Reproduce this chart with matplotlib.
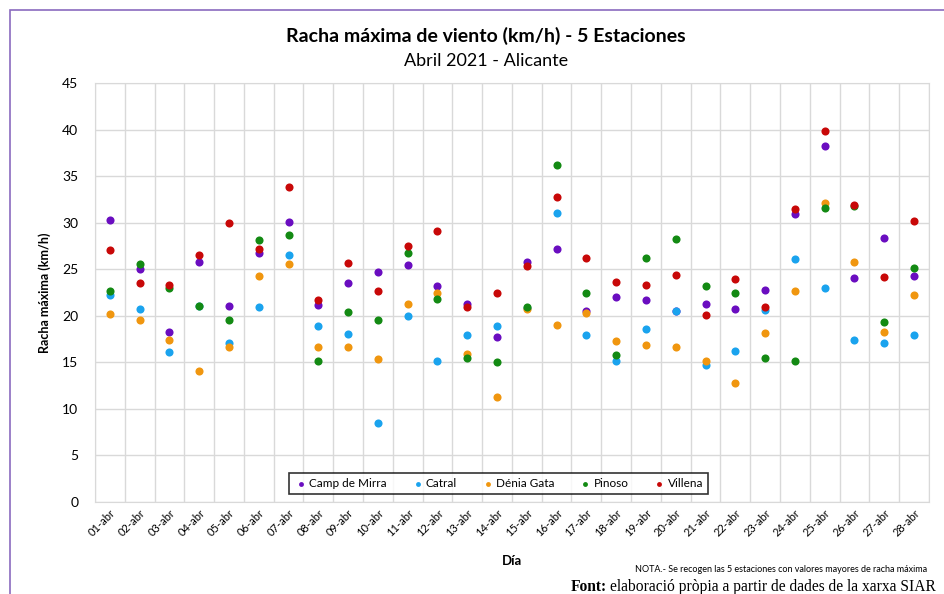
#!/usr/bin/env python3

import matplotlib

matplotlib.use("Agg")

import matplotlib.pyplot as plt
from matplotlib.patches import Rectangle
import numpy as np


DAYS = [f"{d:02d}-abr" for d in range(1, 29)]

CAMP_DE_MIRRA = [30.3, 25.0, 18.3, 25.8, 21.1, 26.8, 30.1, 21.2, 23.5, 24.7,
                 25.5, 23.2, 21.3, 17.7, 25.8, 27.2, 20.5, 22.0, 21.7, 20.5,
                 21.3, 20.7, 22.8, 30.9, 38.3, 24.1, 28.4, 24.3]
CATRAL = [22.2, 20.7, 16.1, 21.1, 17.1, 20.9, 26.5, 18.9, 18.0, 8.5,
          20.0, 15.1, 17.9, 18.9, 20.8, 31.0, 17.9, 15.1, 18.6, 20.5,
          14.7, 16.2, 20.6, 26.1, 23.0, 17.4, 17.1, 17.9]
DENIA_GATA = [20.2, 19.5, 17.4, 14.1, 16.6, 24.3, 25.6, 16.7, 16.6, 15.4,
              21.3, 22.5, 15.9, 11.3, 20.7, 19.0, 20.3, 17.3, 16.9, 16.6,
              15.1, 12.8, 18.2, 22.7, 32.1, 25.8, 18.3, 22.2]
PINOSO = [22.7, 25.6, 23.0, 21.1, 19.5, 28.2, 28.7, 15.1, 20.4, 19.6,
          26.8, 21.8, 15.5, 15.0, 21.0, 36.2, 22.5, 15.8, 26.2, 28.3,
          23.2, 22.4, 15.5, 15.1, 31.6, 31.8, 19.3, 25.1]
VILLENA = [27.1, 23.5, 23.3, 26.5, 30.0, 27.2, 33.8, 21.7, 25.7, 22.7,
           27.5, 29.1, 20.9, 22.5, 25.3, 32.8, 26.2, 23.6, 23.3, 24.4,
           20.1, 24.0, 21.0, 31.5, 39.9, 31.9, 24.2, 30.2]

SERIES = [
    ("Camp de Mirra", CAMP_DE_MIRRA, "#6a0dc0"),
    ("Catral", CATRAL, "#1aa3ee"),
    ("Dénia Gata", DENIA_GATA, "#f0960f"),
    ("Pinoso", PINOSO, "#138a13"),
    ("Villena", VILLENA, "#c80808"),
]

plt.rcParams["font.family"] = ["Lato", "DejaVu Sans"]

fig = plt.figure(figsize=(9.44, 5.94), dpi=100)
ax = fig.add_axes([0.1006, 0.155, 0.8834, 0.705])

x = np.arange(1, len(DAYS) + 1)
for name, values, color in SERIES:
    ax.scatter(x, values, s=34, color=color, label=name, zorder=3, linewidths=0)

ax.set_xlim(0.5, len(DAYS) + 0.5)
ax.set_ylim(0, 45)
ax.set_yticks(np.arange(0, 46, 5))
ax.set_xticks(x)
ax.set_xticklabels(DAYS, rotation=45, ha="right", rotation_mode="anchor", fontsize=8)
ax.set_xticks(np.arange(0.5, len(DAYS) + 1, 1), minor=True)
ax.tick_params(axis="y", labelsize=10, length=0, pad=12)
ax.tick_params(axis="x", which="both", length=0, pad=4)
ax.grid(True, axis="y", color="#d9d9d9", linewidth=1.0)
ax.grid(True, axis="x", which="minor", color="#d9d9d9", linewidth=1.0)
ax.set_axisbelow(True)
for spine in ax.spines.values():
    spine.set_color("#d9d9d9")

ax.set_ylabel("Racha máxima (km/h)", fontsize=9, fontweight="bold", labelpad=8)
ax.set_xlabel("Día", fontsize=9.5, fontweight="bold", labelpad=12)

leg = ax.legend(loc="lower center", bbox_to_anchor=(0.484, 0.005), ncol=5,
                fontsize=8.5, frameon=True, fancybox=False, handletextpad=0.1,
                columnspacing=2.0, markerscale=0.6, borderpad=0.4,
                handlelength=1.2)
leg.get_frame().set_edgecolor("black")
leg.get_frame().set_linewidth(1.2)

fig.text(0.515, 0.94, "Racha máxima de viento (km/h) - 5 Estaciones",
         ha="center", va="center", fontsize=14, fontweight="bold")
fig.text(0.515, 0.897, "Abril 2021 - Alicante", ha="center", va="center", fontsize=13)
fig.text(0.982, 0.042, "NOTA.- Se recogen las 5 estaciones con valores mayores de racha máxima",
         ha="right", va="center", fontsize=6.5)

# source line: bold "Font:" followed by regular serif text
font_label = fig.text(0.604, 0.012, "Font:", ha="left", va="center", fontsize=11.2,
                      family="Liberation Serif", fontweight="bold")
fig.canvas.draw()
label_box = font_label.get_window_extent().transformed(fig.transFigure.inverted())
fig.text(label_box.x1 + 0.004, 0.012,
         "elaboració pròpia a partir de dades de la xarxa SIAR",
         ha="left", va="center", fontsize=11.2, family="Liberation Serif")

fig.add_artist(Rectangle((10 / 944, -0.1), 1.2, 0.1 + 1 - 10 / 594,
                         transform=fig.transFigure, fill=False,
                         edgecolor="#8a6bbf", linewidth=1.2))

fig.savefig("out.png", dpi=100)
